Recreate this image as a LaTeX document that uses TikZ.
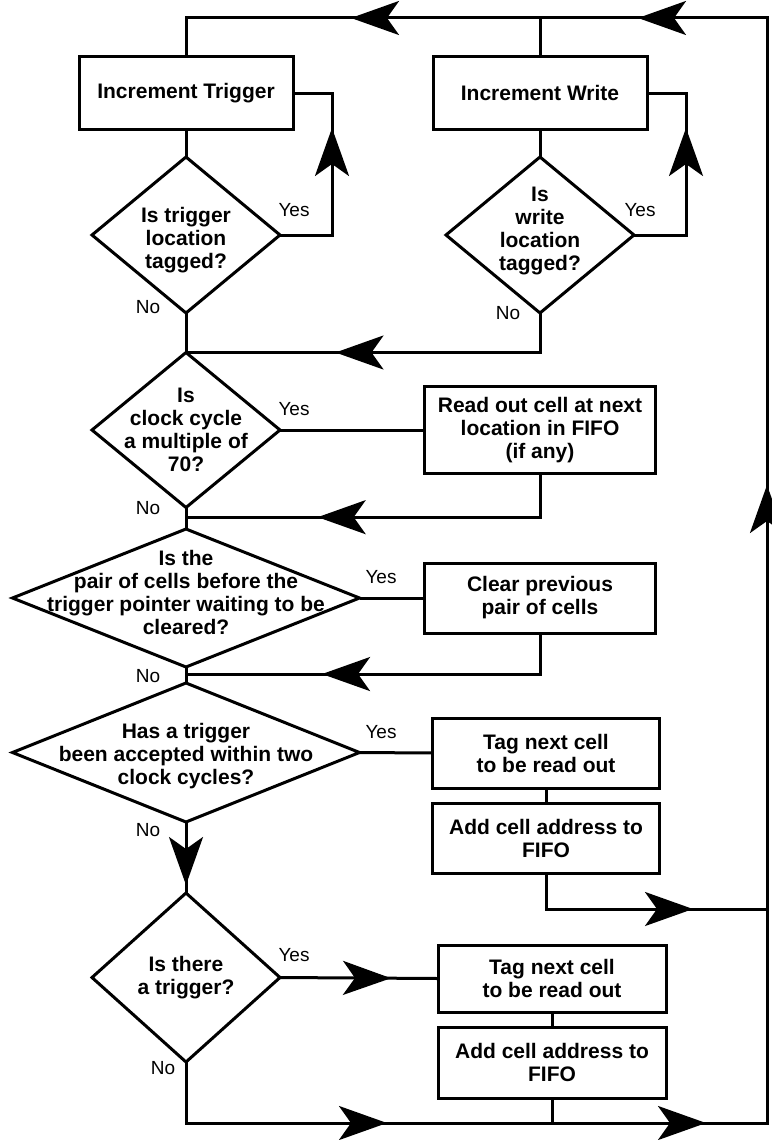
\documentclass[tikz,border=0pt]{standalone}
\usepackage{fontspec}
\setmainfont{Liberation Sans}
\usetikzlibrary{shapes.geometric,arrows.meta,decorations.markings,calc}

\begin{document}
\begin{tikzpicture}
		[x=1pt,y=-1pt,line width=3pt,outer sep=0pt,
		 bigtip/.tip={Stealth[length=48pt,width=34pt,inset=12pt]},
		 arrowheads/.style={postaction={decorate},decoration={markings,#1}},
		 box/.style={draw,rectangle,align=center,inner sep=0pt,font=\fontsize{21}{23}\selectfont\bfseries},
		 decision/.style={draw,diamond,inner sep=0pt,minimum width=188pt,minimum height=156pt},
		 qtext/.style={align=center,inner sep=0pt,font=\fontsize{21}{23}\selectfont\bfseries},
		 answer/.style={inner sep=0pt,font=\fontsize{19}{19}\selectfont}]

        \useasboundingbox (0,0) rectangle (771,1140);

        \node[box,minimum width=214pt,minimum height=72pt] (trig) at (186,93) {Increment Trigger};
        \node[box,minimum width=214pt,minimum height=72pt] (write) at (540,93) {Increment Write};
        \node[decision] (qtrig) at (186,235) {};
        \node[decision] (qwrite) at (540,235) {};
        \node[decision,minimum height=155pt] (qclock) at (186,430) {};
        \node[box,minimum width=231pt,minimum height=87pt] (readout) at (540,430) {Read out cell at next\\location in FIFO\\(if any)};
        \node[decision,minimum width=347pt,minimum height=138pt] (qpair) at (186,598) {};
        \node[box,minimum width=231pt,minimum height=70pt] (clear) at (540,598) {Clear previous\\pair of cells};
        \node[decision,minimum width=347pt,minimum height=139pt] (qaccept) at (186,752.5) {};
        \node[box,minimum width=227pt,minimum height=70pt] (tagA) at (546,753) {Tag next cell\\to be read out};
        \node[box,minimum width=227pt,minimum height=70pt] (addA) at (546,838) {Add cell address to\\FIFO};
        \node[decision,minimum height=169pt] (qtrigger) at (186,977.5) {};
        \node[box,minimum width=228pt,minimum height=67pt] (tagB) at (552,978.5) {Tag next cell\\to be read out};
        \node[box,minimum width=228pt,minimum height=71pt] (addB) at (552,1062.5) {Add cell address to\\FIFO};

        \node[qtext,yshift=-5pt] (qtrigtext) at (qtrig) {Is trigger\\location\\tagged?};
        \node[qtext,yshift=4pt] (qwritetext) at (qwrite) {Is\\write\\location\\tagged?};
        \node[qtext] (qclocktext) at (qclock) {Is\\clock cycle\\a multiple of\\70?};
        \node[qtext,yshift=6pt] (qpairtext) at (qpair) {Is the\\pair of cells before the\\trigger pointer waiting to be\\cleared?};
        \node[qtext,yshift=-4pt] (qaccepttext) at (qaccept) {Has a trigger\\been accepted within two\\clock cycles?};
        \node[qtext] (qtriggertext) at (qtrigger) {Is there\\a trigger?};

        \node[answer] (yes1) at (294,210) {Yes};
        \node[answer] (yes2) at (640,210) {Yes};
        \node[answer] (yes3) at (294,409) {Yes};
        \node[answer] (yes4) at (381,577) {Yes};
        \node[answer] (yes5) at (381,732) {Yes};
        \node[answer] (yes6) at (294,955) {Yes};
        \node[answer] (no1) at (148,307) {No};
        \node[answer] (no2) at (508,313) {No};
        \node[answer] (no3) at (148,508) {No};
        \node[answer] (no4) at (148,676) {No};
        \node[answer] (no5) at (148,830) {No};
        \node[answer] (no6) at (163,1068) {No};

        \coordinate (corner) at (767,18);
        \coordinate (bottom) at (767,1123);
        \coordinate (join2) at ($(qclock.south)!0.45!(qpair.north)$);
        \coordinate (join3) at ($(qpair.south)!0.44!(qaccept.north)$);
        \coordinate (join4) at (767,909);

        \draw[arrowheads={mark=at position 262pt with {\arrow{bigtip}},
                          mark=at position 581pt with {\arrow{bigtip}},
                          mark=at position 1280pt with {\arrow{bigtip}},
                          mark=at position 1876pt with {\arrow{bigtip}},
                          mark=at position 2163pt with {\arrow{bigtip}}}]
            (qtrigger.south) |- (bottom) -- (corner) -- (trig.north |- corner) -- (trig.north);
        \draw (write.north) -- (write.north |- corner);

        \draw (trig.south) -- (qtrig.north);
        \draw (write.south) -- (qwrite.north);
        \draw[arrowheads={mark=at position 159pt with {\arrow{bigtip}}}] (qtrig.east) -- ++(52,0) |- (trig.east);
        \draw[arrowheads={mark=at position 159pt with {\arrow{bigtip}}}] (qwrite.east) -- ++(52,0) |- (write.east);

        \draw (qtrig.south) -- (qclock.north);
        \draw[arrowheads={mark=at position 244pt with {\arrow{bigtip}}}] (qwrite.south) |- (qclock.north);

        \draw (qclock.east) -- (readout.west);
        \draw[arrowheads={mark=at position 266pt with {\arrow{bigtip}}}] (readout.south) |- (join2);
        \draw (qclock.south) -- (qpair.north);

        \draw (qpair.east) -- (clear.west);
        \draw[arrowheads={mark=at position 259pt with {\arrow{bigtip}}}] (clear.south) |- (join3);
        \draw (qpair.south) -- (qaccept.north);

        \draw (qaccept.east) -- (tagA.west);
        \draw (tagA.south) -- (addA.north);
        \draw[arrowheads={mark=at position 183pt with {\arrow{bigtip}}}] (addA.south) |- (join4);
        \draw[arrowheads={mark=at position 63pt with {\arrow{bigtip}}}] (qaccept.south) -- (qtrigger.north);

        \draw[arrowheads={mark=at position 111pt with {\arrow{bigtip}}}] (qtrigger.east) -- (tagB.west);
        \draw (tagB.south) -- (addB.north);
        \draw (addB.south) -- (addB.south |- bottom);

    \end{tikzpicture}
\end{document}
